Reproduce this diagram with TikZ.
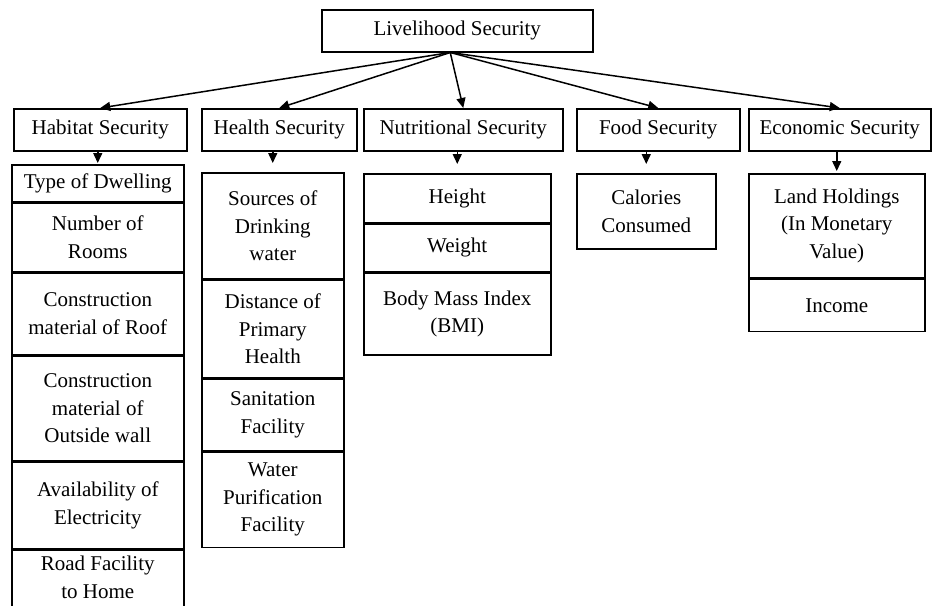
\documentclass[tikz,border=0pt]{standalone}
\usepackage{fontspec}
\setmainfont{Liberation Serif}
\usetikzlibrary{positioning,arrows.meta}

\begin{document}
\begin{tikzpicture}[x=1pt, y=-1pt, >={Triangle[length=10pt,width=9pt]}, line width=1.5pt,
    font=\fontsize{21}{27.5}\selectfont,
    box/.style={draw, anchor=north west, inner sep=0pt, minimum height=42pt},
    item/.style={draw, inner sep=0pt, align=center}]
    \clip (0,0) rectangle (933,605);

    % top and second level
    \node [box, minimum width=271pt] at (321,9) (live) {Livelihood Security};
    \node [box, minimum width=173pt] at (13,108) (habitat) {Habitat Security};
    \node [box, minimum width=155pt] at (201,108) (health) {Health Security};
    \node [box, minimum width=199pt] at (363,108) (nutri) {Nutritional Security};
    \node [box, minimum width=163pt] at (576,108) (food) {Food Security};
    \node [box, minimum width=182pt] at (748,108) (econ) {Economic Security};
    \coordinate (hub) at ([xshift=-7pt]live.south);

    % habitat column
    \node [item, anchor=north west, minimum width=172pt, minimum height=37pt] at (11,164) (dwell) {Type of Dwelling};
    \node [item, below=0pt of dwell, minimum width=172pt, minimum height=68pt] (rooms) {Number of\\Rooms};
    \node [item, below=0pt of rooms, minimum width=172pt, minimum height=82pt] (roof) {Construction\\material of Roof};
    \node [item, below=0pt of roof, minimum width=172pt, minimum height=104pt] (wall) {Construction\\material of\\Outside wall};
    \node [item, below=0pt of wall, minimum width=172pt, minimum height=87pt] (elec) {Availability of\\Electricity};
    \node [item, below=0pt of elec, minimum width=172pt, minimum height=78pt, text depth=24pt] (road) {Road Facility\\to Home};

    % health column
    \node [item, anchor=north west, minimum width=142pt, minimum height=106pt] at (201,172) (water) {Sources of\\Drinking\\water};
    \node [item, below=0pt of water, minimum width=142pt, minimum height=97pt] (phc) {Distance of\\Primary\\Health};
    \node [item, below=0pt of phc, minimum width=142pt, minimum height=72pt] (sanit) {Sanitation\\Facility};
    \node [item, below=0pt of sanit, minimum width=142pt, minimum height=95pt] (purif) {Water\\Purification\\Facility};

    % nutritional column
    \node [item, anchor=north west, minimum width=187pt, minimum height=49pt] at (363,173) (height) {Height};
    \node [item, below=0pt of height, minimum width=187pt, minimum height=47pt] (weight) {Weight};
    \node [item, below=0pt of weight, minimum width=187pt, minimum height=82pt] (bmi) {Body Mass Index\\(BMI)};

    % food and economic columns
    \node [item, anchor=north west, minimum width=139pt, minimum height=75pt] at (576,173) (cal) {Calories\\Consumed};
    \node [item, anchor=north west, minimum width=176pt, minimum height=104pt] at (748,173) (land) {Land Holdings\\(In Monetary\\Value)};
    \node [item, below=0pt of land, minimum width=176pt, minimum height=52pt] (income) {Income};

    % arrows
    \foreach \n in {habitat,health,nutri,food,econ}
        \draw [->] (hub) -- (\n.north);
    \foreach \a/\b/\g in {habitat/dwell/1, health/water/9, nutri/height/9, food/cal/9, econ/land/2}
        \draw [->, shorten >=\g pt] (\b.north |- \a.south) -- (\b.north);
\end{tikzpicture}
\end{document}
